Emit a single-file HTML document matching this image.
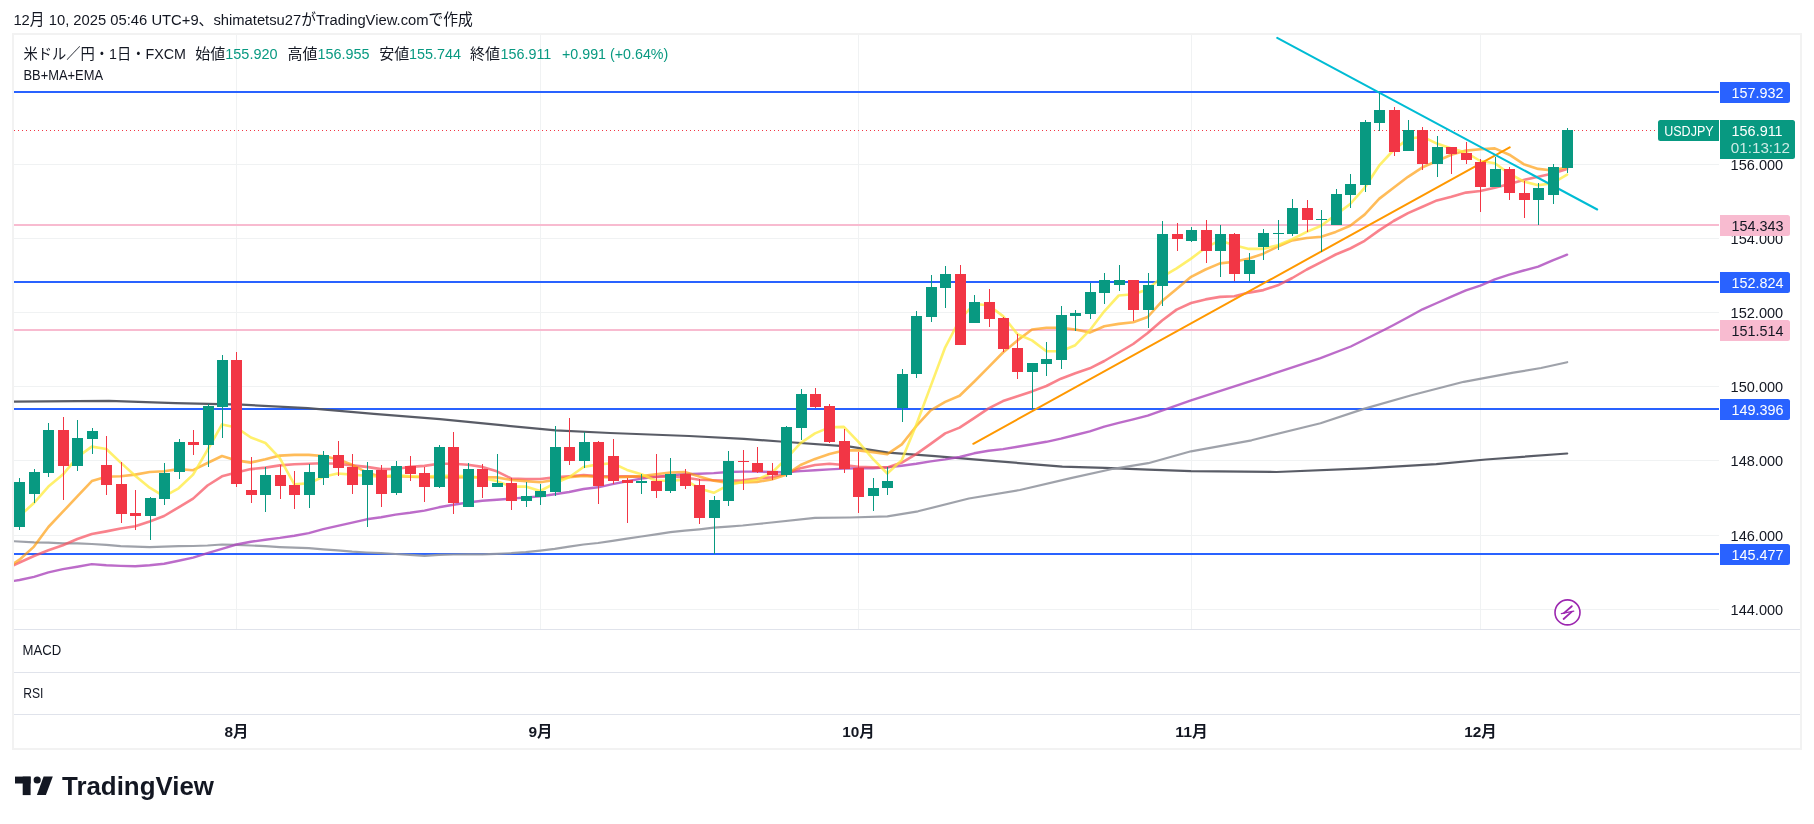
<!DOCTYPE html><html><head><meta charset="utf-8"><title>USDJPY</title><style>
html,body{margin:0;padding:0;background:#fff;width:1814px;height:824px;overflow:hidden}
svg{position:absolute;left:0;top:0;will-change:transform}
text{font-family:"Liberation Sans", "Noto Sans CJK JP", sans-serif}
</style></head><body>
<svg width="1814" height="824" viewBox="0 0 1814 824">
<defs><clipPath id="pane"><rect x="14" y="35" width="1705" height="594"/></clipPath></defs>
<text x="13.4" y="24.9" font-size="15.4" fill="#131722" textLength="459.5" lengthAdjust="spacingAndGlyphs">12月 10, 2025 05:46 UTC+9、shimatetsu27がTradingView.comで作成</text>
<rect x="13" y="34" width="1788" height="715" fill="#fff" stroke="#f2f2f2" stroke-width="2"/>
<rect x="14" y="164" width="1705" height="1" fill="#f0f2f3"/>
<rect x="14" y="238" width="1705" height="1" fill="#f0f2f3"/>
<rect x="14" y="312" width="1705" height="1" fill="#f0f2f3"/>
<rect x="14" y="386" width="1705" height="1" fill="#f0f2f3"/>
<rect x="14" y="460" width="1705" height="1" fill="#f0f2f3"/>
<rect x="14" y="535" width="1705" height="1" fill="#f0f2f3"/>
<rect x="14" y="609" width="1705" height="1" fill="#f0f2f3"/>
<rect x="236" y="35" width="1" height="594" fill="#f0f2f3"/>
<rect x="540" y="35" width="1" height="594" fill="#f0f2f3"/>
<rect x="858" y="35" width="1" height="594" fill="#f0f2f3"/>
<rect x="1191" y="35" width="1" height="594" fill="#f0f2f3"/>
<rect x="1480" y="35" width="1" height="594" fill="#f0f2f3"/>
<rect x="14" y="629" width="1786" height="1" fill="#e0e3eb"/>
<rect x="14" y="672" width="1786" height="1" fill="#e0e3eb"/>
<rect x="14" y="714" width="1786" height="1" fill="#e0e3eb"/>
<g clip-path="url(#pane)">
<rect x="14" y="91" width="1705" height="2" fill="#2962ff"/>
<rect x="14" y="281" width="1705" height="2" fill="#2962ff"/>
<rect x="14" y="408" width="1705" height="2" fill="#2962ff"/>
<rect x="14" y="553" width="1705" height="2" fill="#2962ff"/>
<rect x="14" y="224" width="1705" height="2" fill="#f8bbd0"/>
<rect x="14" y="329" width="1705" height="2" fill="#f8bbd0"/>
<line x1="14" y1="130.5" x2="1658" y2="130.5" stroke="#f23645" stroke-width="1" stroke-dasharray="1 3"/>
<path d="M13.0,401.6 L109.0,400.9 L175.4,403.2 L241.6,404.6 L307.7,408.2 L373.9,413.8 L440.0,419.1 L506.2,425.7 L555.8,430.4 L610.0,433.0 L689.0,436.0 L743.8,438.9 L780.0,441.5 L850.0,446.7 L888.2,452.7 L935.0,456.1 L985.9,460.3 L1062.3,466.6 L1104.8,467.9 L1148.2,469.7 L1191.0,471.1 L1276.4,472.0 L1364.6,468.4 L1436.3,464.2 L1485.9,459.5 L1567.2,453.5" fill="none" stroke="#50535e" stroke-width="2.2" stroke-opacity="0.95" stroke-linejoin="round" stroke-linecap="round" />
<path d="M13.0,541.2 L34.0,542.3 L48.4,542.7 L62.9,543.4 L77.3,543.4 L91.8,544.0 L106.3,544.9 L120.7,546.2 L135.2,546.6 L149.7,547.1 L164.1,546.6 L178.6,546.2 L193.1,546.0 L207.5,545.5 L222.0,544.5 L236.4,544.9 L250.9,545.5 L265.4,546.2 L279.8,547.1 L294.3,547.7 L308.8,548.2 L323.2,549.3 L337.7,550.3 L352.2,551.7 L366.6,552.5 L381.1,553.2 L395.5,554.0 L410.0,554.9 L424.5,555.8 L438.9,554.9 L453.4,554.5 L467.9,554.3 L482.3,554.3 L496.8,553.8 L511.3,553.2 L525.7,552.1 L540.2,550.6 L554.7,548.8 L569.1,546.6 L583.6,544.5 L598.0,543.0 L612.5,540.8 L627.0,538.6 L641.4,536.5 L655.9,534.3 L670.4,532.1 L684.8,530.6 L699.3,529.3 L713.8,527.7 L728.2,526.6 L742.7,525.5 L757.1,524.0 L771.6,522.5 L815.0,517.9 L850.0,517.5 L887.4,516.4 L918.0,511.3 L968.9,498.5 L1019.9,490.0 L1070.8,478.1 L1113.3,468.8 L1148.2,463.2 L1191.0,451.3 L1251.6,440.3 L1320.5,423.2 L1364.6,408.6 L1411.5,395.3 L1463.8,381.8 L1513.4,372.7 L1541.0,368.0 L1567.2,362.2" fill="none" stroke="#9598a1" stroke-width="2.2" stroke-opacity="0.9" stroke-linejoin="round" stroke-linecap="round" />
<path d="M13.0,581.0 L19.5,580.0 L34.0,576.8 L48.4,572.4 L62.9,569.1 L77.3,566.7 L91.8,564.1 L106.3,565.2 L120.7,565.9 L135.2,566.3 L149.7,565.2 L164.1,563.7 L178.6,560.8 L193.1,557.6 L207.5,553.2 L222.0,548.8 L236.4,544.5 L250.9,541.8 L265.4,539.7 L279.8,537.9 L294.3,535.7 L308.8,533.1 L323.2,529.2 L337.7,525.9 L352.2,522.6 L366.6,519.3 L381.1,517.2 L395.5,514.6 L410.0,512.8 L424.5,510.6 L438.9,507.3 L453.4,504.7 L467.9,502.5 L482.3,500.8 L496.8,499.7 L511.3,498.6 L525.7,497.5 L540.2,496.4 L554.7,494.2 L569.1,492.0 L583.6,489.0 L598.0,487.3 L612.5,484.1 L627.0,481.2 L641.4,478.6 L655.9,476.9 L670.4,475.3 L684.8,474.2 L699.3,473.8 L713.8,473.1 L728.2,472.0 L742.7,471.6 L757.1,471.6 L771.6,472.0 L786.1,472.3 L800.5,471.1 L815.0,470.3 L829.5,469.4 L843.9,468.6 L858.4,468.2 L872.9,468.2 L887.3,467.4 L901.8,465.7 L916.2,463.8 L930.7,461.4 L945.2,459.4 L959.6,457.0 L974.1,453.3 L988.6,450.8 L1003.0,449.1 L1017.5,446.7 L1032.0,444.3 L1046.4,441.8 L1060.9,438.7 L1075.3,435.0 L1089.8,431.4 L1104.3,426.6 L1118.7,422.9 L1133.2,419.3 L1147.7,415.6 L1191.0,400.3 L1265.4,376.3 L1320.5,358.1 L1350.8,346.5 L1383.9,330.0 L1393.6,325.0 L1408.0,317.2 L1422.5,309.3 L1436.9,303.0 L1451.4,296.7 L1465.9,290.4 L1480.3,285.6 L1494.8,279.3 L1509.3,274.6 L1523.7,270.5 L1538.2,266.7 L1552.7,260.4 L1567.1,254.7" fill="none" stroke="#ab47bc" stroke-width="2.4" stroke-opacity="0.8" stroke-linejoin="round" stroke-linecap="round" />
<path d="M5.0,569.5 L19.5,562.5 L34.0,556.0 L48.4,550.2 L62.9,545.2 L77.3,539.0 L91.8,534.0 L106.3,531.4 L120.7,528.5 L135.2,526.3 L149.7,521.5 L164.1,516.0 L178.6,507.3 L193.1,498.6 L207.5,485.5 L222.0,476.3 L236.4,472.4 L250.9,469.1 L265.4,467.6 L279.8,465.4 L294.3,464.3 L308.8,463.7 L323.2,463.2 L337.7,463.7 L352.2,465.4 L366.6,466.9 L381.1,469.1 L395.5,469.0 L410.0,466.9 L424.5,465.9 L438.9,463.7 L453.4,463.7 L467.9,464.8 L482.3,466.9 L496.8,471.3 L511.3,478.5 L525.7,479.0 L540.2,479.0 L554.7,477.4 L569.1,476.3 L583.6,475.0 L598.0,476.0 L612.5,476.4 L627.0,476.4 L641.4,476.9 L655.9,476.9 L670.4,476.4 L684.8,477.5 L699.3,479.7 L713.8,480.3 L728.2,480.8 L742.7,480.3 L757.1,478.6 L771.6,477.3 L786.1,473.5 L800.5,468.2 L815.0,465.0 L829.5,463.8 L843.9,465.0 L858.4,466.7 L872.9,467.4 L887.3,467.4 L901.8,462.6 L916.2,454.1 L930.7,443.9 L945.2,433.4 L959.6,427.6 L974.1,418.1 L988.6,408.3 L1003.0,401.1 L1017.5,396.2 L1032.0,391.4 L1046.4,386.0 L1060.9,378.7 L1075.3,373.2 L1089.8,368.3 L1104.3,361.0 L1118.7,352.5 L1133.2,344.0 L1147.7,333.0 L1162.1,320.5 L1176.6,309.6 L1191.1,303.0 L1205.5,299.4 L1220.0,296.9 L1234.4,296.2 L1248.9,292.6 L1263.4,290.1 L1277.8,285.3 L1292.3,278.0 L1306.8,269.5 L1321.2,262.2 L1335.7,254.5 L1350.2,248.5 L1364.6,240.8 L1379.1,230.4 L1393.6,221.0 L1408.0,213.1 L1422.5,206.8 L1436.9,200.4 L1451.4,196.7 L1465.9,192.6 L1480.3,191.0 L1494.8,187.8 L1509.3,184.0 L1523.7,179.9 L1538.2,176.8 L1552.7,173.6 L1567.1,168.9" fill="none" stroke="#f7525f" stroke-width="2.6" stroke-opacity="0.72" stroke-linejoin="round" stroke-linecap="round" />
<path d="M13.0,564.0 L19.5,559.7 L34.0,546.6 L48.4,527.0 L62.9,511.7 L77.3,496.4 L91.8,481.1 L106.3,476.8 L120.7,476.3 L135.2,474.6 L149.7,472.0 L164.1,471.3 L178.6,469.1 L193.1,470.2 L207.5,463.0 L222.0,456.0 L236.4,460.4 L250.9,462.6 L265.4,459.3 L279.8,455.6 L294.3,454.9 L308.8,454.9 L323.2,456.0 L337.7,459.3 L352.2,464.8 L366.6,472.4 L381.1,476.8 L395.5,476.3 L410.0,476.8 L424.5,477.2 L438.9,477.2 L453.4,477.4 L467.9,477.2 L482.3,477.2 L496.8,477.4 L511.3,480.0 L525.7,481.1 L540.2,482.2 L554.7,480.0 L569.1,477.2 L583.6,476.0 L598.0,476.9 L612.5,477.5 L627.0,476.9 L641.4,476.0 L655.9,474.2 L670.4,472.5 L684.8,472.0 L699.3,476.4 L713.8,480.8 L728.2,483.0 L742.7,482.5 L757.1,481.9 L771.6,479.5 L786.1,474.7 L800.5,465.0 L815.0,458.9 L829.5,454.1 L843.9,450.4 L858.4,450.4 L872.9,452.1 L887.3,454.1 L901.8,444.4 L916.2,426.2 L930.7,410.4 L945.2,401.9 L959.6,395.8 L974.1,381.7 L988.6,367.1 L1003.0,352.5 L1017.5,340.4 L1032.0,329.5 L1046.4,327.8 L1060.9,327.8 L1075.3,329.5 L1089.8,332.6 L1104.3,326.3 L1118.7,323.9 L1133.2,322.2 L1147.7,317.0 L1162.1,301.1 L1176.6,288.9 L1191.1,276.8 L1205.5,269.5 L1220.0,263.4 L1234.4,261.7 L1248.9,258.6 L1263.4,253.7 L1277.8,246.5 L1292.3,240.4 L1306.8,238.0 L1321.2,236.7 L1335.7,231.9 L1350.2,225.7 L1364.6,214.6 L1379.1,198.9 L1393.6,187.8 L1408.0,176.8 L1422.5,167.3 L1436.9,161.0 L1451.4,154.7 L1465.9,150.6 L1480.3,149.3 L1494.8,148.4 L1509.3,154.7 L1523.7,164.2 L1538.2,168.9 L1552.7,170.5 L1567.1,167.3" fill="none" stroke="#ff9800" stroke-width="2.6" stroke-opacity="0.65" stroke-linejoin="round" stroke-linecap="round" />
<path d="M13.0,519.0 L19.5,516.0 L34.0,503.0 L48.4,486.6 L62.9,474.6 L77.3,457.1 L91.8,446.6 L106.3,449.0 L120.7,462.6 L135.2,475.7 L149.7,487.7 L164.1,496.4 L178.6,488.3 L193.1,474.6 L207.5,450.0 L222.0,424.4 L236.4,427.6 L250.9,437.5 L265.4,443.0 L279.8,458.2 L294.3,484.4 L308.8,483.3 L323.2,476.8 L337.7,473.5 L352.2,474.6 L366.6,475.7 L381.1,476.8 L395.5,475.0 L410.0,476.3 L424.5,476.8 L438.9,475.7 L453.4,475.7 L467.9,476.3 L482.3,477.9 L496.8,481.1 L511.3,486.6 L525.7,486.6 L540.2,491.0 L554.7,483.3 L569.1,477.2 L583.6,467.0 L598.0,464.4 L612.5,463.3 L627.0,469.9 L641.4,474.2 L655.9,480.8 L670.4,480.8 L684.8,479.7 L699.3,488.4 L713.8,492.8 L728.2,485.2 L742.7,481.9 L757.1,479.7 L771.6,473.0 L786.1,458.9 L800.5,443.2 L815.0,433.4 L829.5,427.4 L843.9,426.9 L858.4,441.9 L872.9,458.9 L887.3,473.5 L901.8,460.1 L916.2,425.0 L930.7,386.1 L945.2,347.3 L959.6,320.0 L974.1,304.0 L988.6,305.2 L1003.0,316.1 L1017.5,334.3 L1032.0,340.4 L1046.4,351.3 L1060.9,351.3 L1075.3,345.2 L1089.8,330.2 L1104.3,311.3 L1118.7,295.5 L1133.2,294.3 L1147.7,289.4 L1162.1,276.8 L1176.6,268.3 L1191.1,258.6 L1205.5,247.7 L1220.0,240.4 L1234.4,245.2 L1248.9,248.9 L1263.4,248.9 L1277.8,245.2 L1292.3,239.2 L1306.8,231.9 L1321.2,225.8 L1335.7,214.9 L1350.2,204.0 L1364.6,187.8 L1379.1,165.7 L1393.6,150.0 L1408.0,138.9 L1422.5,136.7 L1436.9,143.6 L1451.4,148.4 L1465.9,152.5 L1480.3,161.0 L1494.8,163.2 L1509.3,173.6 L1523.7,181.5 L1538.2,185.3 L1552.7,183.1 L1567.1,174.6" fill="none" stroke="#ffeb3b" stroke-width="2.6" stroke-opacity="0.75" stroke-linejoin="round" stroke-linecap="round" />
<line x1="973.3" y1="443.8" x2="1509.7" y2="147.3" stroke="#ff9800" stroke-width="2" stroke-linecap="round"/>
<line x1="1277.2" y1="37.9" x2="1597.2" y2="209.5" stroke="#00bcd4" stroke-width="2" stroke-linecap="round"/>
<rect x="19" y="478" width="1" height="52" fill="#089981"/>
<rect x="14" y="482" width="11" height="45" fill="#089981"/>
<rect x="34" y="469" width="1" height="34" fill="#089981"/>
<rect x="29" y="472" width="11" height="22" fill="#089981"/>
<rect x="48" y="423" width="1" height="54" fill="#089981"/>
<rect x="43" y="430" width="11" height="43" fill="#089981"/>
<rect x="63" y="417" width="1" height="83" fill="#f23645"/>
<rect x="58" y="430" width="11" height="36" fill="#f23645"/>
<rect x="77" y="420" width="1" height="51" fill="#089981"/>
<rect x="72" y="438" width="11" height="28" fill="#089981"/>
<rect x="92" y="428" width="1" height="26" fill="#089981"/>
<rect x="87" y="431" width="11" height="8" fill="#089981"/>
<rect x="106" y="436" width="1" height="59" fill="#f23645"/>
<rect x="101" y="465" width="11" height="20" fill="#f23645"/>
<rect x="121" y="462" width="1" height="61" fill="#f23645"/>
<rect x="116" y="484" width="11" height="30" fill="#f23645"/>
<rect x="135" y="490" width="1" height="40" fill="#f23645"/>
<rect x="130" y="513" width="11" height="3" fill="#f23645"/>
<rect x="150" y="497" width="1" height="43" fill="#089981"/>
<rect x="145" y="498" width="11" height="18" fill="#089981"/>
<rect x="164" y="463" width="1" height="42" fill="#089981"/>
<rect x="159" y="473" width="11" height="26" fill="#089981"/>
<rect x="179" y="439" width="1" height="40" fill="#089981"/>
<rect x="174" y="442" width="11" height="30" fill="#089981"/>
<rect x="193" y="430" width="1" height="25" fill="#f23645"/>
<rect x="188" y="442" width="11" height="3" fill="#f23645"/>
<rect x="208" y="404" width="1" height="63" fill="#089981"/>
<rect x="203" y="406" width="11" height="39" fill="#089981"/>
<rect x="222" y="355" width="1" height="83" fill="#089981"/>
<rect x="217" y="360" width="11" height="47" fill="#089981"/>
<rect x="236" y="352" width="1" height="135" fill="#f23645"/>
<rect x="231" y="360" width="11" height="124" fill="#f23645"/>
<rect x="251" y="457" width="1" height="46" fill="#f23645"/>
<rect x="246" y="490" width="11" height="5" fill="#f23645"/>
<rect x="265" y="467" width="1" height="45" fill="#089981"/>
<rect x="260" y="475" width="11" height="20" fill="#089981"/>
<rect x="280" y="465" width="1" height="34" fill="#f23645"/>
<rect x="275" y="475" width="11" height="11" fill="#f23645"/>
<rect x="294" y="471" width="1" height="38" fill="#f23645"/>
<rect x="289" y="485" width="11" height="10" fill="#f23645"/>
<rect x="309" y="464" width="1" height="44" fill="#089981"/>
<rect x="304" y="472" width="11" height="23" fill="#089981"/>
<rect x="323" y="451" width="1" height="34" fill="#089981"/>
<rect x="318" y="455" width="11" height="23" fill="#089981"/>
<rect x="338" y="441" width="1" height="35" fill="#f23645"/>
<rect x="333" y="455" width="11" height="13" fill="#f23645"/>
<rect x="352" y="454" width="1" height="40" fill="#f23645"/>
<rect x="347" y="467" width="11" height="18" fill="#f23645"/>
<rect x="367" y="462" width="1" height="65" fill="#089981"/>
<rect x="362" y="470" width="11" height="15" fill="#089981"/>
<rect x="381" y="465" width="1" height="42" fill="#f23645"/>
<rect x="376" y="470" width="11" height="24" fill="#f23645"/>
<rect x="396" y="461" width="1" height="34" fill="#089981"/>
<rect x="391" y="466" width="11" height="27" fill="#089981"/>
<rect x="410" y="456" width="1" height="25" fill="#f23645"/>
<rect x="405" y="466" width="11" height="8" fill="#f23645"/>
<rect x="424" y="467" width="1" height="35" fill="#f23645"/>
<rect x="419" y="473" width="11" height="14" fill="#f23645"/>
<rect x="439" y="445" width="1" height="43" fill="#089981"/>
<rect x="434" y="447" width="11" height="40" fill="#089981"/>
<rect x="453" y="432" width="1" height="82" fill="#f23645"/>
<rect x="448" y="447" width="11" height="56" fill="#f23645"/>
<rect x="468" y="463" width="1" height="44" fill="#089981"/>
<rect x="463" y="469" width="11" height="38" fill="#089981"/>
<rect x="482" y="464" width="1" height="34" fill="#f23645"/>
<rect x="477" y="469" width="11" height="18" fill="#f23645"/>
<rect x="497" y="454" width="1" height="33" fill="#089981"/>
<rect x="492" y="483" width="11" height="4" fill="#089981"/>
<rect x="511" y="478" width="1" height="32" fill="#f23645"/>
<rect x="506" y="483" width="11" height="18" fill="#f23645"/>
<rect x="526" y="482" width="1" height="25" fill="#089981"/>
<rect x="521" y="496" width="11" height="5" fill="#089981"/>
<rect x="540" y="484" width="1" height="21" fill="#089981"/>
<rect x="535" y="491" width="11" height="6" fill="#089981"/>
<rect x="555" y="426" width="1" height="70" fill="#089981"/>
<rect x="550" y="447" width="11" height="45" fill="#089981"/>
<rect x="569" y="418" width="1" height="47" fill="#f23645"/>
<rect x="564" y="447" width="11" height="14" fill="#f23645"/>
<rect x="584" y="432" width="1" height="36" fill="#089981"/>
<rect x="579" y="442" width="11" height="19" fill="#089981"/>
<rect x="598" y="441" width="1" height="63" fill="#f23645"/>
<rect x="593" y="442" width="11" height="44" fill="#f23645"/>
<rect x="613" y="439" width="1" height="45" fill="#f23645"/>
<rect x="608" y="456" width="11" height="25" fill="#f23645"/>
<rect x="627" y="478" width="1" height="45" fill="#f23645"/>
<rect x="622" y="480" width="11" height="3" fill="#f23645"/>
<rect x="641" y="474" width="1" height="20" fill="#089981"/>
<rect x="636" y="481" width="11" height="2" fill="#089981"/>
<rect x="656" y="454" width="1" height="44" fill="#f23645"/>
<rect x="651" y="481" width="11" height="10" fill="#f23645"/>
<rect x="670" y="458" width="1" height="35" fill="#089981"/>
<rect x="665" y="474" width="11" height="17" fill="#089981"/>
<rect x="685" y="469" width="1" height="20" fill="#f23645"/>
<rect x="680" y="474" width="11" height="12" fill="#f23645"/>
<rect x="699" y="479" width="1" height="45" fill="#f23645"/>
<rect x="694" y="485" width="11" height="33" fill="#f23645"/>
<rect x="714" y="496" width="1" height="58" fill="#089981"/>
<rect x="709" y="500" width="11" height="18" fill="#089981"/>
<rect x="728" y="451" width="1" height="55" fill="#089981"/>
<rect x="723" y="461" width="11" height="40" fill="#089981"/>
<rect x="743" y="450" width="1" height="40" fill="#f23645"/>
<rect x="738" y="461" width="11" height="1" fill="#f23645"/>
<rect x="757" y="447" width="1" height="26" fill="#f23645"/>
<rect x="752" y="463" width="11" height="9" fill="#f23645"/>
<rect x="772" y="463" width="1" height="17" fill="#f23645"/>
<rect x="767" y="471" width="11" height="4" fill="#f23645"/>
<rect x="786" y="426" width="1" height="51" fill="#089981"/>
<rect x="781" y="427" width="11" height="48" fill="#089981"/>
<rect x="801" y="389" width="1" height="51" fill="#089981"/>
<rect x="796" y="394" width="11" height="34" fill="#089981"/>
<rect x="815" y="388" width="1" height="20" fill="#f23645"/>
<rect x="810" y="394" width="11" height="13" fill="#f23645"/>
<rect x="829" y="404" width="1" height="39" fill="#f23645"/>
<rect x="824" y="406" width="11" height="36" fill="#f23645"/>
<rect x="844" y="429" width="1" height="44" fill="#f23645"/>
<rect x="839" y="441" width="11" height="28" fill="#f23645"/>
<rect x="858" y="452" width="1" height="61" fill="#f23645"/>
<rect x="853" y="468" width="11" height="29" fill="#f23645"/>
<rect x="873" y="478" width="1" height="33" fill="#089981"/>
<rect x="868" y="488" width="11" height="8" fill="#089981"/>
<rect x="887" y="467" width="1" height="28" fill="#089981"/>
<rect x="882" y="481" width="11" height="7" fill="#089981"/>
<rect x="902" y="369" width="1" height="53" fill="#089981"/>
<rect x="897" y="374" width="11" height="34" fill="#089981"/>
<rect x="916" y="311" width="1" height="67" fill="#089981"/>
<rect x="911" y="316" width="11" height="58" fill="#089981"/>
<rect x="931" y="275" width="1" height="47" fill="#089981"/>
<rect x="926" y="287" width="11" height="30" fill="#089981"/>
<rect x="945" y="266" width="1" height="42" fill="#089981"/>
<rect x="940" y="274" width="11" height="14" fill="#089981"/>
<rect x="960" y="265" width="1" height="80" fill="#f23645"/>
<rect x="955" y="274" width="11" height="71" fill="#f23645"/>
<rect x="974" y="295" width="1" height="28" fill="#089981"/>
<rect x="969" y="302" width="11" height="21" fill="#089981"/>
<rect x="989" y="289" width="1" height="38" fill="#f23645"/>
<rect x="984" y="302" width="11" height="17" fill="#f23645"/>
<rect x="1003" y="317" width="1" height="35" fill="#f23645"/>
<rect x="998" y="318" width="11" height="31" fill="#f23645"/>
<rect x="1017" y="334" width="1" height="45" fill="#f23645"/>
<rect x="1012" y="348" width="11" height="24" fill="#f23645"/>
<rect x="1032" y="363" width="1" height="46" fill="#089981"/>
<rect x="1027" y="363" width="11" height="9" fill="#089981"/>
<rect x="1046" y="342" width="1" height="34" fill="#089981"/>
<rect x="1041" y="359" width="11" height="5" fill="#089981"/>
<rect x="1061" y="306" width="1" height="63" fill="#089981"/>
<rect x="1056" y="315" width="11" height="45" fill="#089981"/>
<rect x="1075" y="310" width="1" height="21" fill="#089981"/>
<rect x="1070" y="313" width="11" height="3" fill="#089981"/>
<rect x="1090" y="283" width="1" height="36" fill="#089981"/>
<rect x="1085" y="292" width="11" height="22" fill="#089981"/>
<rect x="1104" y="273" width="1" height="31" fill="#089981"/>
<rect x="1099" y="280" width="11" height="13" fill="#089981"/>
<rect x="1119" y="265" width="1" height="26" fill="#089981"/>
<rect x="1114" y="280" width="11" height="5" fill="#089981"/>
<rect x="1133" y="280" width="1" height="41" fill="#f23645"/>
<rect x="1128" y="280" width="11" height="30" fill="#f23645"/>
<rect x="1148" y="273" width="1" height="55" fill="#089981"/>
<rect x="1143" y="285" width="11" height="25" fill="#089981"/>
<rect x="1162" y="221" width="1" height="85" fill="#089981"/>
<rect x="1157" y="234" width="11" height="52" fill="#089981"/>
<rect x="1177" y="223" width="1" height="28" fill="#f23645"/>
<rect x="1172" y="234" width="11" height="5" fill="#f23645"/>
<rect x="1191" y="227" width="1" height="15" fill="#089981"/>
<rect x="1186" y="230" width="11" height="11" fill="#089981"/>
<rect x="1206" y="220" width="1" height="43" fill="#f23645"/>
<rect x="1201" y="230" width="11" height="21" fill="#f23645"/>
<rect x="1220" y="225" width="1" height="52" fill="#089981"/>
<rect x="1215" y="234" width="11" height="17" fill="#089981"/>
<rect x="1234" y="233" width="1" height="48" fill="#f23645"/>
<rect x="1229" y="234" width="11" height="40" fill="#f23645"/>
<rect x="1249" y="253" width="1" height="28" fill="#089981"/>
<rect x="1244" y="260" width="11" height="14" fill="#089981"/>
<rect x="1263" y="229" width="1" height="31" fill="#089981"/>
<rect x="1258" y="233" width="11" height="14" fill="#089981"/>
<rect x="1278" y="220" width="1" height="30" fill="#089981"/>
<rect x="1273" y="233" width="11" height="1" fill="#089981"/>
<rect x="1292" y="199" width="1" height="37" fill="#089981"/>
<rect x="1287" y="208" width="11" height="26" fill="#089981"/>
<rect x="1307" y="200" width="1" height="32" fill="#f23645"/>
<rect x="1302" y="208" width="11" height="12" fill="#f23645"/>
<rect x="1321" y="210" width="1" height="42" fill="#089981"/>
<rect x="1316" y="219" width="11" height="1" fill="#089981"/>
<rect x="1336" y="189" width="1" height="36" fill="#089981"/>
<rect x="1331" y="194" width="11" height="31" fill="#089981"/>
<rect x="1350" y="174" width="1" height="34" fill="#089981"/>
<rect x="1345" y="184" width="11" height="11" fill="#089981"/>
<rect x="1365" y="120" width="1" height="72" fill="#089981"/>
<rect x="1360" y="122" width="11" height="63" fill="#089981"/>
<rect x="1379" y="93" width="1" height="38" fill="#089981"/>
<rect x="1374" y="110" width="11" height="13" fill="#089981"/>
<rect x="1394" y="107" width="1" height="49" fill="#f23645"/>
<rect x="1389" y="110" width="11" height="42" fill="#f23645"/>
<rect x="1408" y="120" width="1" height="31" fill="#089981"/>
<rect x="1403" y="130" width="11" height="21" fill="#089981"/>
<rect x="1422" y="127" width="1" height="43" fill="#f23645"/>
<rect x="1417" y="130" width="11" height="34" fill="#f23645"/>
<rect x="1437" y="136" width="1" height="41" fill="#089981"/>
<rect x="1432" y="147" width="11" height="17" fill="#089981"/>
<rect x="1451" y="147" width="1" height="27" fill="#f23645"/>
<rect x="1446" y="147" width="11" height="7" fill="#f23645"/>
<rect x="1466" y="142" width="1" height="22" fill="#f23645"/>
<rect x="1461" y="153" width="11" height="7" fill="#f23645"/>
<rect x="1480" y="159" width="1" height="53" fill="#f23645"/>
<rect x="1475" y="162" width="11" height="25" fill="#f23645"/>
<rect x="1495" y="157" width="1" height="30" fill="#089981"/>
<rect x="1490" y="169" width="11" height="18" fill="#089981"/>
<rect x="1509" y="167" width="1" height="33" fill="#f23645"/>
<rect x="1504" y="169" width="11" height="24" fill="#f23645"/>
<rect x="1524" y="181" width="1" height="37" fill="#f23645"/>
<rect x="1519" y="193" width="11" height="7" fill="#f23645"/>
<rect x="1538" y="183" width="1" height="42" fill="#089981"/>
<rect x="1533" y="188" width="11" height="12" fill="#089981"/>
<rect x="1553" y="164" width="1" height="40" fill="#089981"/>
<rect x="1548" y="167" width="11" height="28" fill="#089981"/>
<rect x="1567" y="128" width="1" height="45" fill="#089981"/>
<rect x="1562" y="130" width="11" height="38" fill="#089981"/>
</g>
<circle cx="1567.5" cy="612.4" r="12.5" fill="#fff" stroke="#9c27b0" stroke-width="1.6"/>
<path d="M1571.8,606.2 L1563.9,613.1 M1571.6,611.8 L1563.6,619.0" fill="none" stroke="#9c27b0" stroke-width="1.8" stroke-linecap="round"/>
<path d="M1561.3,613.6 L1573.8,611.2" fill="none" stroke="#9c27b0" stroke-width="1.2" stroke-linecap="round"/>
<text x="23.5" y="59.3" font-size="15" fill="#131722" textLength="162.5" lengthAdjust="spacingAndGlyphs">米ドル／円・1日・FXCM</text>
<text x="195.3" y="59.3" font-size="15" fill="#131722" textLength="30.0" lengthAdjust="spacingAndGlyphs">始値</text>
<text x="225.3" y="59.3" font-size="15" fill="#089981" textLength="52.2" lengthAdjust="spacingAndGlyphs">155.920</text>
<text x="287.6" y="59.3" font-size="15" fill="#131722" textLength="30.0" lengthAdjust="spacingAndGlyphs">高値</text>
<text x="317.5" y="59.3" font-size="15" fill="#089981" textLength="52.0" lengthAdjust="spacingAndGlyphs">156.955</text>
<text x="379.2" y="59.3" font-size="15" fill="#131722" textLength="30.0" lengthAdjust="spacingAndGlyphs">安値</text>
<text x="409.0" y="59.3" font-size="15" fill="#089981" textLength="52.0" lengthAdjust="spacingAndGlyphs">155.744</text>
<text x="470.1" y="59.3" font-size="15" fill="#131722" textLength="30.0" lengthAdjust="spacingAndGlyphs">終値</text>
<text x="500.5" y="59.3" font-size="15" fill="#089981" textLength="50.8" lengthAdjust="spacingAndGlyphs">156.911</text>
<text x="562.0" y="59.3" font-size="15" fill="#089981" textLength="106.3" lengthAdjust="spacingAndGlyphs">+0.991 (+0.64%)</text>
<text x="23.5" y="80.0" font-size="15" fill="#131722" textLength="79.5" lengthAdjust="spacingAndGlyphs">BB+MA+EMA</text>
<text x="1730.6" y="169.9" font-size="15.2" fill="#131722" textLength="52.6" lengthAdjust="spacingAndGlyphs">156.000</text>
<text x="1730.6" y="243.9" font-size="15.2" fill="#131722" textLength="52.6" lengthAdjust="spacingAndGlyphs">154.000</text>
<text x="1730.6" y="317.9" font-size="15.2" fill="#131722" textLength="52.6" lengthAdjust="spacingAndGlyphs">152.000</text>
<text x="1730.6" y="391.9" font-size="15.2" fill="#131722" textLength="52.6" lengthAdjust="spacingAndGlyphs">150.000</text>
<text x="1730.6" y="465.9" font-size="15.2" fill="#131722" textLength="52.6" lengthAdjust="spacingAndGlyphs">148.000</text>
<text x="1730.6" y="540.9" font-size="15.2" fill="#131722" textLength="52.6" lengthAdjust="spacingAndGlyphs">146.000</text>
<text x="1730.6" y="614.9" font-size="15.2" fill="#131722" textLength="52.6" lengthAdjust="spacingAndGlyphs">144.000</text>
<rect x="1720" y="82" width="70" height="21" rx="2.5" fill="#2962ff"/>
<rect x="1720" y="82" width="8" height="21" fill="#2962ff"/>
<text x="1731.6" y="97.9" font-size="15" fill="#fff" textLength="52.0" lengthAdjust="spacingAndGlyphs">157.932</text>
<rect x="1720" y="215" width="70" height="21" rx="2.5" fill="#f8bbd0"/>
<rect x="1720" y="215" width="8" height="21" fill="#f8bbd0"/>
<text x="1731.6" y="230.9" font-size="15" fill="#131722" textLength="52.0" lengthAdjust="spacingAndGlyphs">154.343</text>
<rect x="1720" y="272" width="70" height="21" rx="2.5" fill="#2962ff"/>
<rect x="1720" y="272" width="8" height="21" fill="#2962ff"/>
<text x="1731.6" y="287.9" font-size="15" fill="#fff" textLength="52.0" lengthAdjust="spacingAndGlyphs">152.824</text>
<rect x="1720" y="320" width="70" height="21" rx="2.5" fill="#f8bbd0"/>
<rect x="1720" y="320" width="8" height="21" fill="#f8bbd0"/>
<text x="1731.6" y="335.9" font-size="15" fill="#131722" textLength="52.0" lengthAdjust="spacingAndGlyphs">151.514</text>
<rect x="1720" y="399" width="70" height="21" rx="2.5" fill="#2962ff"/>
<rect x="1720" y="399" width="8" height="21" fill="#2962ff"/>
<text x="1731.6" y="414.9" font-size="15" fill="#fff" textLength="52.0" lengthAdjust="spacingAndGlyphs">149.396</text>
<rect x="1720" y="544" width="70" height="21" rx="2.5" fill="#2962ff"/>
<rect x="1720" y="544" width="8" height="21" fill="#2962ff"/>
<text x="1731.6" y="559.9" font-size="15" fill="#fff" textLength="52.0" lengthAdjust="spacingAndGlyphs">145.477</text>
<rect x="1658" y="120" width="61" height="21" rx="2.5" fill="#089981"/>
<rect x="1711" y="120" width="8" height="21" fill="#089981"/>
<text x="1664.2" y="135.7" font-size="15" fill="#fff" textLength="49.5" lengthAdjust="spacingAndGlyphs">USDJPY</text>
<rect x="1720" y="120" width="75" height="39" rx="2.5" fill="#089981"/>
<rect x="1720" y="120" width="8" height="39" fill="#089981"/>
<text x="1731.6" y="135.9" font-size="15" fill="#fff" textLength="51.0" lengthAdjust="spacingAndGlyphs">156.911</text>
<text x="1730.8" y="153.3" font-size="15" fill="#fff" textLength="59.2" lengthAdjust="spacingAndGlyphs" fill-opacity="0.8">01:13:12</text>
<text x="22.6" y="655.2" font-size="15.5" fill="#131722" textLength="38.6" lengthAdjust="spacingAndGlyphs">MACD</text>
<text x="23.2" y="698.1" font-size="15.5" fill="#131722" textLength="20.2" lengthAdjust="spacingAndGlyphs">RSI</text>
<text x="236.5" y="736.8" font-size="15.5" fill="#131722" textLength="24.0" lengthAdjust="spacingAndGlyphs" text-anchor="middle" font-weight="bold">8月</text>
<text x="540.5" y="736.8" font-size="15.5" fill="#131722" textLength="24.0" lengthAdjust="spacingAndGlyphs" text-anchor="middle" font-weight="bold">9月</text>
<text x="858.5" y="736.8" font-size="15.5" fill="#131722" textLength="32.5" lengthAdjust="spacingAndGlyphs" text-anchor="middle" font-weight="bold">10月</text>
<text x="1191.5" y="736.8" font-size="15.5" fill="#131722" textLength="32.5" lengthAdjust="spacingAndGlyphs" text-anchor="middle" font-weight="bold">11月</text>
<text x="1480.5" y="736.8" font-size="15.5" fill="#131722" textLength="32.5" lengthAdjust="spacingAndGlyphs" text-anchor="middle" font-weight="bold">12月</text>
<g fill="#131722">
<rect x="15" y="776.6" width="15.6" height="6.9"/>
<rect x="22.7" y="776.6" width="7.9" height="18.5"/>
<circle cx="37.2" cy="780" r="3.6"/>
<polygon points="43.6,776.6 52.8,776.6 45.9,795.1 36.9,795.1"/>
</g>
<text x="62.0" y="795.1" font-size="26.3" fill="#131722" textLength="152.0" lengthAdjust="spacingAndGlyphs" font-weight="bold">TradingView</text>
</svg></body></html>
